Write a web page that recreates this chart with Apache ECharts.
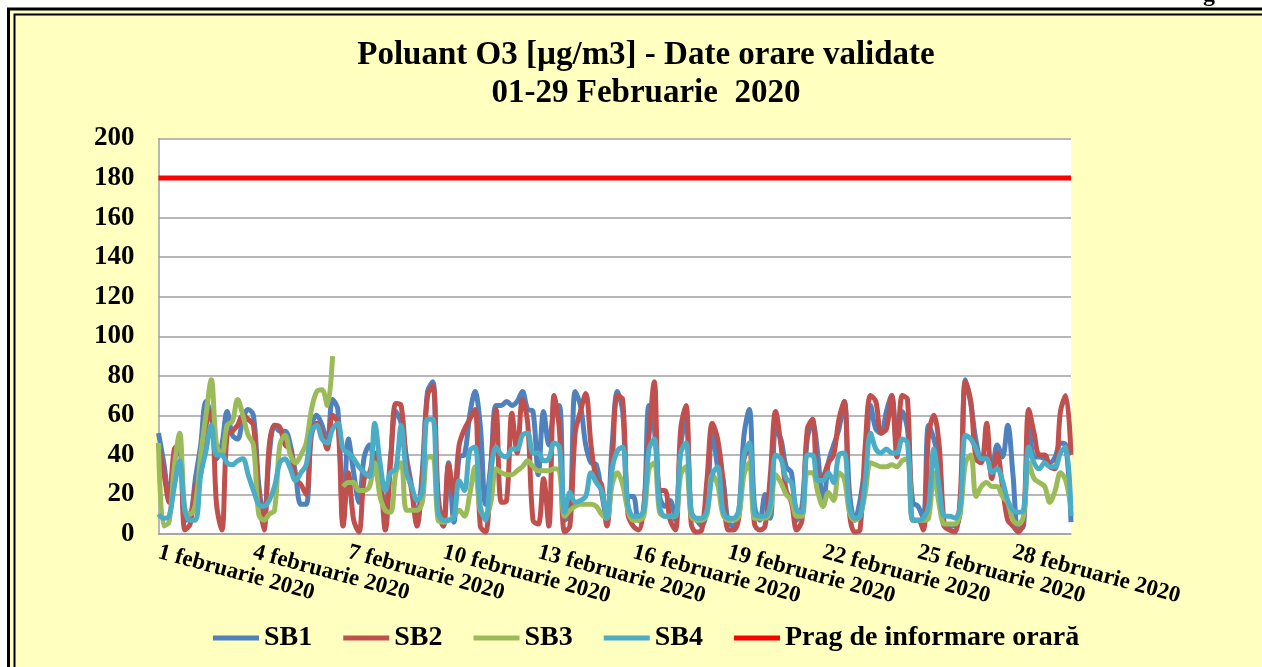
<!DOCTYPE html>
<html>
<head>
<meta charset="utf-8">
<script src="https://cdn.jsdelivr.net/npm/echarts/dist/echarts.min.js"></script>
<style>
html, body { margin: 0; padding: 0; background: #fff; overflow: hidden; }
#container { width: 1262px; height: 667px; }
</style>
</head>
<body>
<div id="container"></div>
<script>
// valori O3, cate un punct la 4 ore (6 pe zi, 1-29 feb)
var STEP_H = 4;
var sb1 = [
    51, 36, 19, 38, 43, 7,
    8, 28, 45, 67, 60, 38,
    45, 62, 50, 48, 58, 63,
    60, 25, 8, 40, 55, 52,
    52, 45, 30, 15, 15, 55,
    60, 55, 46, 68, 63, 6,
    48, 31, 16, 39, 45, 34,
    24, 14, 39, 62, 56, 39,
    24, 7, 31, 72, 77, 11,
    4, 36, 6, 39, 40, 60,
    72, 55, 15, 35, 65, 65,
    67, 65, 67, 72, 63, 62,
    30, 62, 45, 62, 65, 7,
    10, 72, 65, 45, 36, 35,
    21, 7, 45, 72, 62, 19,
    19, 7, 11, 65, 53, 19,
    14, 17, 7, 45, 58, 11,
    7, 4, 14, 55, 34, 28,
    6, 4, 11, 50, 63, 14,
    7, 20, 8, 53, 48, 34,
    31, 7, 14, 48, 56, 40,
    14, 36, 45, 53, 67, 21,
    7, 17, 36, 65, 53, 51,
    62, 70, 45, 62, 53, 16,
    14, 8, 55, 48, 36, 4,
    4, 4, 11, 78, 66, 47,
    39, 39, 33, 45, 39, 55,
    30, 2, 4, 56, 39, 39,
    38, 36, 39, 46, 45, 6
];
var sb2 = [
    45, 31, 16, 43, 45, 2,
    5, 24, 30, 55, 62, 15,
    2, 50, 52, 55, 60, 58,
    55, 20, 2, 45, 55, 54,
    45, 43, 28, 25, 20, 50,
    56, 51, 43, 60, 56, 4,
    31, 7, 1, 28, 31, 41,
    31, 2, 36, 66, 65, 36,
    22, 4, 28, 70, 75, 20,
    4, 35, 20, 45, 53, 58,
    63, 4, 1, 33, 63, 16,
    17, 61, 41, 68, 56, 7,
    5, 28, 4, 70, 53, 1,
    4, 51, 62, 71, 45, 28,
    25, 4, 35, 70, 68, 10,
    4, 2, 14, 50, 77, 22,
    22, 7, 2, 53, 65, 5,
    1, 2, 28, 56, 48, 28,
    2, 2, 8, 38, 44, 5,
    2, 4, 30, 62, 45, 22,
    16, 2, 7, 53, 58, 28,
    29, 36, 40, 58, 67, 11,
    1, 2, 45, 70, 67, 51,
    53, 70, 39, 70, 68, 7,
    7, 2, 50, 60, 45, 4,
    2, 1, 19, 77, 67, 38,
    36, 56, 28, 41, 24, 7,
    4, 1, 7, 63, 51, 40,
    40, 34, 33, 62, 70, 40
];
var sb3 = [
    46, 4, 6, 34, 51, 12,
    10, 15, 40, 60, 78, 45,
    40, 55, 57, 68, 60, 50,
    45, 10, 7, 10, 12, 45,
    50, 40, 36, 40, 46, 63,
    72, 73, 65, 90, null, 24,
    26, 26, 22, 22, 24, 36,
    19, 12, 11, 31, 36, 12,
    12, 12, 16, 39, 39, 7,
    6, 7, 9, 12, 9, 20,
    34, 12, 9, 16, 33, 31,
    30, 30, 32, 34, 37, 34,
    32, 32, 32, 33, 32, 9,
    12, 14, 15, 15, 15, 14,
    10, 8, 25, 31, 25, 12,
    7, 7, 9, 33, 36, 11,
    9, 9, 9, 30, 34, 9,
    7, 7, 10, 30, 25, 10,
    7, 7, 9, 30, 36, 8,
    8, 8, 12, 30, 26, 20,
    17, 9, 9, 31, 31, 21,
    14, 21, 17, 31, 28, 11,
    7, 9, 21, 36, 35, 34,
    34, 35, 34, 37, 38, 7,
    7, 7, 8, 31, 15, 5,
    5, 5, 11, 36, 40, 19,
    24, 26, 24, 24, 19, 16,
    7, 5, 9, 36, 28, 26,
    24, 16, 22, 31, 27, 13
];
var sb4 = [
    10, 8, 9, 24, 37, 12,
    7, 7, 30, 42, 55, 40,
    40, 36, 35, 37, 38, 30,
    22, 15, 14, 17, 24, 36,
    38, 33, 27, 31, 35, 52,
    55, 48, 46, 53, 56, 43,
    41, 38, 34, 31, 29, 56,
    36, 22, 31, 33, 55, 31,
    24, 17, 21, 58, 58, 11,
    7, 7, 8, 27, 22, 42,
    44, 14, 7, 31, 44, 40,
    39, 43, 43, 50, 51, 41,
    41, 37, 38, 46, 44, 11,
    21, 16, 17, 19, 31, 26,
    22, 8, 33, 42, 44, 15,
    9, 9, 12, 43, 48, 14,
    9, 9, 9, 41, 46, 11,
    8, 8, 12, 30, 34, 12,
    8, 8, 12, 40, 46, 10,
    9, 9, 15, 40, 38, 28,
    26, 12, 11, 40, 40, 27,
    27, 31, 26, 40, 41, 14,
    8, 9, 27, 51, 43, 41,
    43, 41, 41, 48, 46, 7,
    7, 8, 14, 43, 24, 9,
    9, 8, 14, 50, 48, 43,
    38, 38, 31, 33, 27, 17,
    12, 11, 12, 44, 36, 33,
    36, 34, 34, 41, 44, 9
];
var prag = 180;
var seriesNames = ['SB1', 'SB2', 'SB3', 'SB4', 'Prag de informare orară'];
var colors = ['#4f81bd', '#c0504d', '#9bbb59', '#4bacc6', '#ff0000'];
var lastHour = (sb1.length - 1) * STEP_H;

var font = '"Liberation Serif", "Times New Roman", serif';

function toPairs(values) {
    return values.map(function (v, i) {
        return [i * STEP_H, v === null ? '-' : v];
    });
}

function lineSeries(name, values, color) {
    return {
        name: name,
        type: 'line',
        data: toPairs(values),
        smooth: 0.35,
        showSymbol: false,
        lineStyle: { color: color, width: 5 },
        itemStyle: { color: color }
    };
}

var myChart = echarts.init(document.getElementById('container'));
var option = {
    color: colors,
    animation: false,
    graphic: [
        { type: 'rect', z: -10, shape: { x: 8.5, y: 9, width: 1290, height: 700 },
          style: { fill: '#ffffc0', stroke: '#000', lineWidth: 3 } },
        { type: 'rect', z: -9, shape: { x: 14.5, y: 14.5, width: 1280, height: 690 },
          style: { fill: null, stroke: '#000', lineWidth: 2 } },
        { type: 'text', left: 1203, top: -17,
          style: { text: 'g', font: 'bold 24px ' + font, fill: '#000' } }
    ],
    title: {
        text: 'Poluant O3 [µg/m3] - Date orare validate\n01-29 Februarie  2020',
        left: 641,
        top: 31,
        textAlign: 'center',
        textStyle: {
            fontFamily: font,
            fontWeight: 'bold',
            fontSize: 33,
            lineHeight: 38,
            color: '#000'
        }
    },
    legend: {
        data: seriesNames,
        left: 213,
        top: 624,
        padding: 0,
        itemGap: 31,
        itemWidth: 46,
        itemHeight: 5,
        icon: 'rect',
        textStyle: {
            fontFamily: font,
            fontWeight: 'bold',
            fontSize: 28,
            lineHeight: 28,
            color: '#000'
        }
    },
    grid: {
        left: 158.5,
        right: 191,
        top: 138.5,
        bottom: 133,
        show: true,
        backgroundColor: '#fff',
        borderWidth: 0
    },
    xAxis: {
        type: 'value',
        min: 0,
        max: lastHour,
        interval: 72,
        axisLine: { lineStyle: { color: '#a0a0a0', width: 1.5 } },
        axisTick: { show: false },
        splitLine: { show: false },
        axisLabel: {
            rotate: -15,
            margin: 18,
            showMaxLabel: false,
            fontFamily: font,
            fontWeight: 'bold',
            fontSize: 23,
            color: '#000',
            formatter: function (v) {
                return (v / 24 + 1) + ' februarie 2020';
            }
        }
    },
    yAxis: {
        type: 'value',
        min: 0,
        max: 200,
        interval: 20,
        axisLine: { show: true, lineStyle: { color: '#a0a0a0', width: 1.5 } },
        axisTick: { show: false },
        splitLine: { lineStyle: { color: '#a0a0a0', width: 1.5 } },
        axisLabel: {
            margin: 24,
            fontFamily: font,
            fontWeight: 'bold',
            fontSize: 27,
            color: '#000'
        }
    },
    series: [
        lineSeries('SB1', sb1, colors[0]),
        lineSeries('SB2', sb2, colors[1]),
        lineSeries('SB3', sb3, colors[2]),
        lineSeries('SB4', sb4, colors[3]),
        {
            name: 'Prag de informare orară',
            type: 'line',
            data: [[0, prag], [lastHour, prag]],
            showSymbol: false,
            lineStyle: { color: colors[4], width: 5 },
            itemStyle: { color: colors[4] }
        }
    ]
};
myChart.setOption(option);
</script>
</body>
</html>
